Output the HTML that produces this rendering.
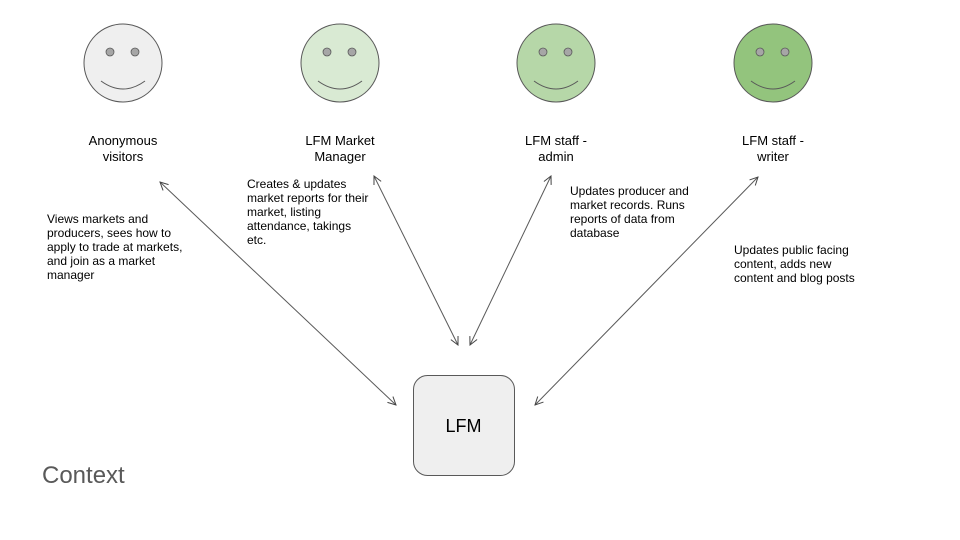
<!DOCTYPE html>
<html><head><style>
body{margin:0;width:960px;height:540px;background:#fff;overflow:hidden;font-family:"Liberation Sans",sans-serif;}
svg{position:absolute;left:0;top:0}
.t{position:absolute;font-size:12px;color:#000;line-height:14px}
.c{text-align:center;font-size:13px;line-height:16px}
</style></head><body>
<svg width="960" height="540">
<defs><marker id="a" markerWidth="10" markerHeight="10" refX="9" refY="5" orient="auto-start-reverse" markerUnits="userSpaceOnUse"><path d="M1,1 L9,5 L1,9" fill="none" stroke="#444" stroke-width="1"/></marker></defs>
<g stroke="#595959" stroke-width="1">
<circle cx="123" cy="63" r="39" fill="#efefef"/>
<circle cx="340" cy="63" r="39" fill="#d9ead3"/>
<circle cx="556" cy="63" r="39" fill="#b6d7a8"/>
<circle cx="773" cy="63" r="39" fill="#93c47d"/>
</g>
<g fill="#a6a6a6" stroke="#595959" stroke-width="0.8">
<circle cx="110" cy="52" r="4"/><circle cx="135" cy="52" r="4"/>
<circle cx="327" cy="52" r="4"/><circle cx="352" cy="52" r="4"/>
<circle cx="543" cy="52" r="4"/><circle cx="568" cy="52" r="4"/>
<circle cx="760" cy="52" r="4"/><circle cx="785" cy="52" r="4"/>
</g>
<g fill="none" stroke="#595959" stroke-width="1">
<path d="M101,81 Q123,97 145,81"/>
<path d="M318,81 Q340,97 362,81"/>
<path d="M534,81 Q556,97 578,81"/>
<path d="M751,81 Q773,97 795,81"/>
</g>
<rect x="413.5" y="375.5" width="101" height="100" rx="14" fill="#efefef" stroke="#595959"/>
<g stroke="#595959" stroke-width="1" marker-start="url(#a)" marker-end="url(#a)">
<line x1="160" y1="182" x2="396" y2="405"/>
<line x1="374" y1="176" x2="458" y2="345"/>
<line x1="551" y1="176" x2="470" y2="345"/>
<line x1="758" y1="177" x2="535" y2="405"/>
</g>
</svg>
<div class="t c" style="left:63px;top:133px;width:120px">Anonymous<br>visitors</div>
<div class="t c" style="left:280px;top:133px;width:120px">LFM Market<br>Manager</div>
<div class="t c" style="left:496px;top:133px;width:120px">LFM staff -<br>admin</div>
<div class="t c" style="left:713px;top:133px;width:120px">LFM staff -<br>writer</div>
<div class="t" style="left:47px;top:212px;width:150px">Views markets and producers, sees how to apply to trade at markets, and join as a market manager</div>
<div class="t" style="left:247px;top:177px;width:124px">Creates &amp; updates market reports for their market, listing attendance, takings etc.</div>
<div class="t" style="left:570px;top:184px;width:130px">Updates producer and market records. Runs reports of data from database</div>
<div class="t" style="left:734px;top:243px;width:135px">Updates public facing content, adds new content and blog posts</div>
<div class="t" style="left:413px;top:416px;width:101px;text-align:center;font-size:18px;line-height:20px">LFM</div>
<div class="t" style="left:42px;top:462px;font-size:24px;line-height:28px;color:#595959">Context</div>
</body></html>
